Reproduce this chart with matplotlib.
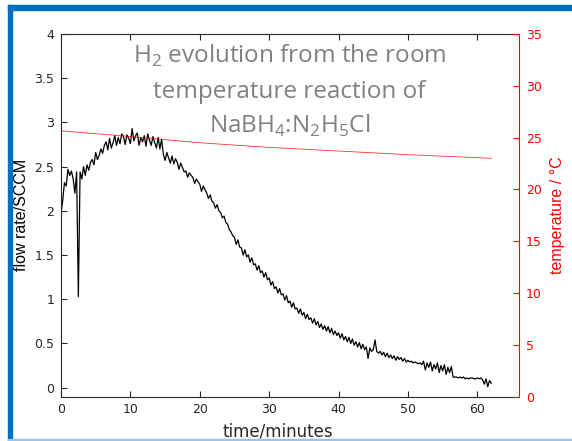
import numpy as np
import matplotlib
matplotlib.use("Agg")
import matplotlib.pyplot as plt
from matplotlib.patches import Rectangle

# flow rate trace, one value every 0.25 min from 0 to 62 min
t_step = 0.25
flow = [
    1.97, 2.12, 2.32, 2.28, 2.47, 2.40, 2.45, 2.36, 2.20, 2.44,
    1.03,
    2.44, 2.36, 2.50, 2.40, 2.52,
    2.46, 2.55, 2.58, 2.52,
    2.66, 2.58, 2.63, 2.70,
    2.65, 2.74, 2.78, 2.69,
    2.82, 2.71, 2.77, 2.85,
    2.74, 2.83, 2.76, 2.87,
    2.84, 2.75, 2.86, 2.82,
    2.76, 2.93, 2.79, 2.85,
    2.88, 2.74, 2.83, 2.78,
    2.85, 2.73, 2.87, 2.80,
    2.74, 2.84, 2.77, 2.71,
    2.83, 2.70, 2.81, 2.64,
    2.57, 2.66, 2.60, 2.54,
    2.62, 2.53, 2.59, 2.55,
    2.47, 2.54, 2.49, 2.44,
    2.45, 2.38, 2.43, 2.40,
    2.38, 2.31, 2.36, 2.33,
    2.30, 2.22, 2.28, 2.24,
    2.20, 2.14, 2.18, 2.11,
    2.09, 2.03, 2.07, 2.00,
    1.98, 1.92, 1.94, 1.87,
    1.85, 1.79, 1.76, 1.72,
    1.70, 1.62, 1.67, 1.59,
    1.58, 1.50, 1.56, 1.48,
    1.50, 1.42, 1.47, 1.39,
    1.40, 1.33, 1.38, 1.30,
    1.32, 1.25, 1.30, 1.22,
    1.24, 1.16, 1.20, 1.12,
    1.14, 1.07, 1.12, 1.05,
    1.06, 0.99, 1.04, 0.96,
    0.98, 0.91, 0.96, 0.89,
    0.90, 0.84, 0.89, 0.82,
    0.85, 0.78, 0.83, 0.77,
    0.79, 0.73, 0.78, 0.71,
    0.75, 0.68, 0.72, 0.66,
    0.70, 0.64, 0.69, 0.62,
    0.67, 0.60, 0.64, 0.59,
    0.62, 0.56, 0.61, 0.54,
    0.58, 0.52, 0.57, 0.50,
    0.55, 0.48, 0.52, 0.46,
    0.51, 0.44, 0.49, 0.43,
    0.46, 0.33, 0.45, 0.41,
    0.43, 0.54, 0.41, 0.39,
    0.41, 0.37, 0.40, 0.35,
    0.39, 0.34, 0.37, 0.33,
    0.36, 0.31, 0.35, 0.32,
    0.34, 0.30, 0.33, 0.29,
    0.31, 0.29, 0.30, 0.28,
    0.29, 0.28, 0.27, 0.28,
    0.26, 0.30, 0.20, 0.28,
    0.23, 0.29, 0.19, 0.26,
    0.21, 0.28, 0.17, 0.25,
    0.19, 0.26, 0.15, 0.23,
    0.17, 0.24, 0.12, 0.12,
    0.12, 0.11, 0.12, 0.11,
    0.12, 0.10, 0.11, 0.10,
    0.11, 0.11, 0.10, 0.10,
    0.11, 0.10, 0.11, 0.09,
    0.04, 0.10, 0.01, 0.08,
    0.05,
]
time = np.arange(len(flow)) * t_step

# temperature (right axis)
temp_time = [0, 10, 20, 30, 40, 50, 62]
temp = [25.65, 25.1, 24.5, 24.05, 23.7, 23.35, 23.0]

title_lines = ["H$_\\mathregular{2}$ evolution from the room",
               "temperature reaction of",
               "NaBH$_\\mathregular{4}$:N$_\\mathregular{2}$H$_\\mathregular{5}$Cl"]

AXC = "#262626"
RED = "#ff0000"
plt.rcParams["font.family"] = "DejaVu Sans"
plt.rcParams["mathtext.fontset"] = "custom"
plt.rcParams["mathtext.rm"] = "Open Sans"

fig = plt.figure(figsize=(5.72, 4.41), dpi=100)
ax = fig.add_axes([61 / 572, 1 - 396.5 / 441, 458 / 572, 362.5 / 441])
ax.plot(time, flow, color="black", lw=0.9)
ax.set_xlim(0, 66)
ax.set_ylim(-0.1, 4)
ax.set_xticks(np.arange(0, 61, 10))
ax.set_yticks(np.arange(0, 4.01, 0.5))
ax.set_yticklabels(["0", "0.5", "1", "1.5", "2", "2.5", "3", "3.5", "4"])
ax.tick_params(direction="in", length=4, width=0.8, colors=AXC, labelsize=9,
               top=True, right=False, pad=5)
for s in ["left", "bottom", "top"]:
    ax.spines[s].set_color(AXC)
    ax.spines[s].set_linewidth(0.8)
ax.spines["right"].set_visible(False)
ax.set_xlabel("time/minutes", fontsize=12, color=AXC)
ax.xaxis.set_label_coords((278 - 61) / 458, (396.5 - 423) / 362.5)
ax.set_ylabel("flow rate/SCCM", fontsize=11.5, color="black",
              family="Liberation Sans")
ax.yaxis.set_label_coords((29 - 61) / 458, 0.5)

ax2 = ax.twinx()
ax2.plot(temp_time, temp, color=RED, lw=0.6, alpha=0.8)
ax2.set_ylim(0, 35)
ax2.set_yticks(np.arange(0, 36, 5))
ax2.tick_params(direction="in", length=4, width=0.8, colors=RED, labelsize=9,
                pad=5)
ax2.spines["right"].set_color(RED)
ax2.spines["right"].set_linewidth(0.8)
for s in ["left", "bottom", "top"]:
    ax2.spines[s].set_visible(False)
ax2.set_ylabel("temperature / \u00b0C", fontsize=11.5, color=RED,
               family="Liberation Sans")
ax2.yaxis.set_label_coords((550 - 61) / 458, 0.5)

# title inside the axes
for i, line in enumerate(title_lines):
    fig.text(289.5 / 572, 1 - (63 + 35 * i) / 441, line, ha="center",
             va="baseline", fontsize=17.5, color="#808080", family="Open Sans")

# slide selection frame
fig.patches.append(Rectangle((8 / 572, 0), 4 / 572, 436 / 441,
                             transform=fig.transFigure, color="#0070c0"))
fig.patches.append(Rectangle((8 / 572, 431 / 441), 564 / 572, 5 / 441,
                             transform=fig.transFigure, color="#0070c0"))
fig.patches.append(Rectangle((8 / 572, 1 / 441), 564 / 572, 1.5 / 441,
                             transform=fig.transFigure, color="#9dc3e6"))

fig.savefig("out.png", dpi=100)
